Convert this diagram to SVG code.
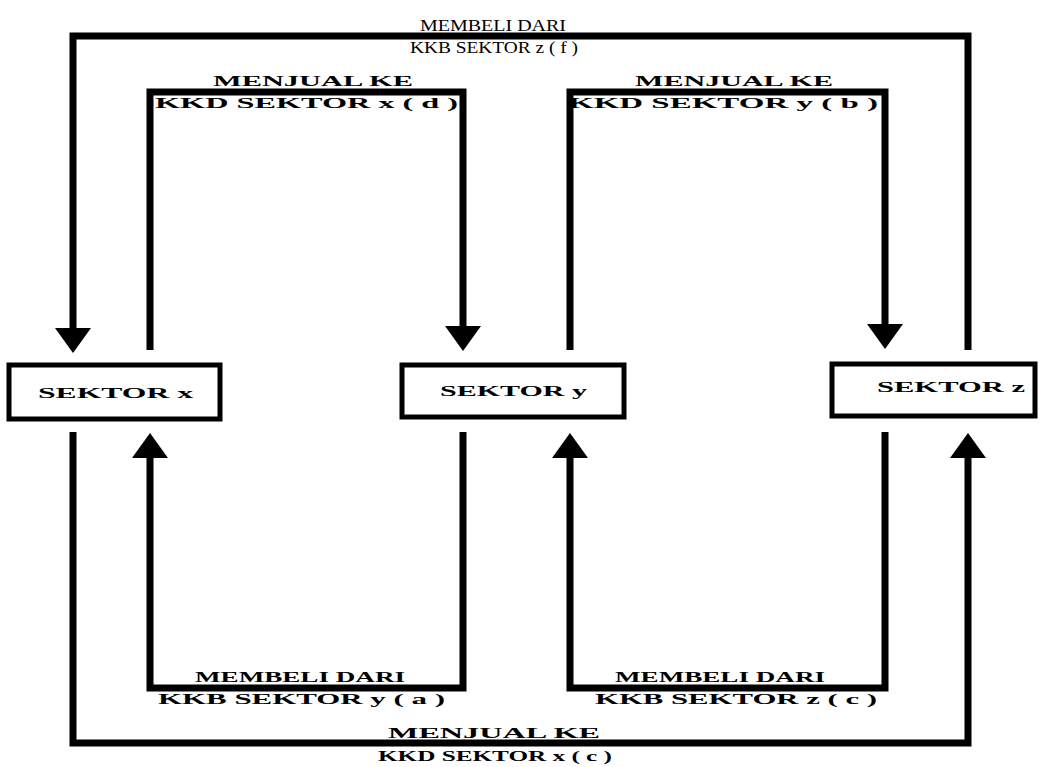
<svg xmlns="http://www.w3.org/2000/svg" width="1042" height="767" viewBox="0 0 1042 767">
<style>
.bg{fill:#fff}
.box{fill:#fff;stroke:#000;stroke-width:5}
.conn{fill:none;stroke:#000;stroke-width:7;stroke-linejoin:miter;stroke-linecap:butt}
.lbl{font-family:"Liberation Serif","Times New Roman",serif;font-weight:bold;font-size:15px;fill:#000}
.top{font-family:"Liberation Serif","Times New Roman",serif;font-size:16px;fill:#000}
.node{font-family:"Liberation Serif","Times New Roman",serif;font-weight:bold;font-size:15px;fill:#000}
</style>
<defs>
<marker id="ah" markerUnits="userSpaceOnUse" markerWidth="26" markerHeight="36" refX="0" refY="18" viewBox="0 0 26 36" orient="auto">
<path d="M0,0 L25,18 L0,36 z" fill="#000"/>
</marker>
</defs>
<rect class="bg" x="0" y="0" width="1042" height="767"/>
<g id="connectors">
<path class="conn" d="M968,350 V36 H73 V328" marker-end="url(#ah)"/>
<path class="conn" d="M150,350 V92 H463 V326" marker-end="url(#ah)"/>
<path class="conn" d="M570,350 V92 H885 V324" marker-end="url(#ah)"/>
<path class="conn" d="M463,432 V688 H150 V458" marker-end="url(#ah)"/>
<path class="conn" d="M885,432 V688 H570 V458" marker-end="url(#ah)"/>
<path class="conn" d="M73,432 V743 H968 V458" marker-end="url(#ah)"/>
</g>
<g id="labels">
<text class="top" x="420" y="31" textLength="146" lengthAdjust="spacingAndGlyphs">MEMBELI DARI</text>
<text class="top" x="410" y="53" textLength="168" lengthAdjust="spacingAndGlyphs">KKB SEKTOR z ( f )</text>
<text class="lbl" x="213" y="86" textLength="200" lengthAdjust="spacingAndGlyphs">MENJUAL KE</text>
<text class="lbl" x="155" y="108" textLength="303" lengthAdjust="spacingAndGlyphs">KKD SEKTOR x ( d )</text>
<text class="lbl" x="635" y="86" textLength="198" lengthAdjust="spacingAndGlyphs">MENJUAL KE</text>
<text class="lbl" x="568" y="108" textLength="310" lengthAdjust="spacingAndGlyphs">KKD SEKTOR y ( b )</text>
<text class="lbl" x="195" y="682" textLength="210" lengthAdjust="spacingAndGlyphs">MEMBELI DARI</text>
<text class="lbl" x="158" y="704" textLength="287" lengthAdjust="spacingAndGlyphs">KKB SEKTOR y ( a )</text>
<text class="lbl" x="615" y="682" textLength="210" lengthAdjust="spacingAndGlyphs">MEMBELI DARI</text>
<text class="lbl" x="595" y="704" textLength="282" lengthAdjust="spacingAndGlyphs">KKB SEKTOR z ( c )</text>
<text class="lbl" x="388" y="738" textLength="212" lengthAdjust="spacingAndGlyphs">MENJUAL KE</text>
<text class="lbl" x="378" y="761" textLength="234" lengthAdjust="spacingAndGlyphs">KKD SEKTOR x ( c )</text>
</g>
<g id="sektor-x">
<rect class="box" x="9" y="365" width="211" height="54"/>
<text class="node" x="38" y="398" textLength="155" lengthAdjust="spacingAndGlyphs">SEKTOR x</text>
</g>
<g id="sektor-y">
<rect class="box" x="402" y="365" width="222" height="52"/>
<text class="node" x="440" y="396" textLength="147" lengthAdjust="spacingAndGlyphs">SEKTOR y</text>
</g>
<g id="sektor-z">
<rect class="box" x="832" y="364" width="203" height="52"/>
<text class="node" x="877" y="392" textLength="148" lengthAdjust="spacingAndGlyphs">SEKTOR z</text>
</g>
</svg>
